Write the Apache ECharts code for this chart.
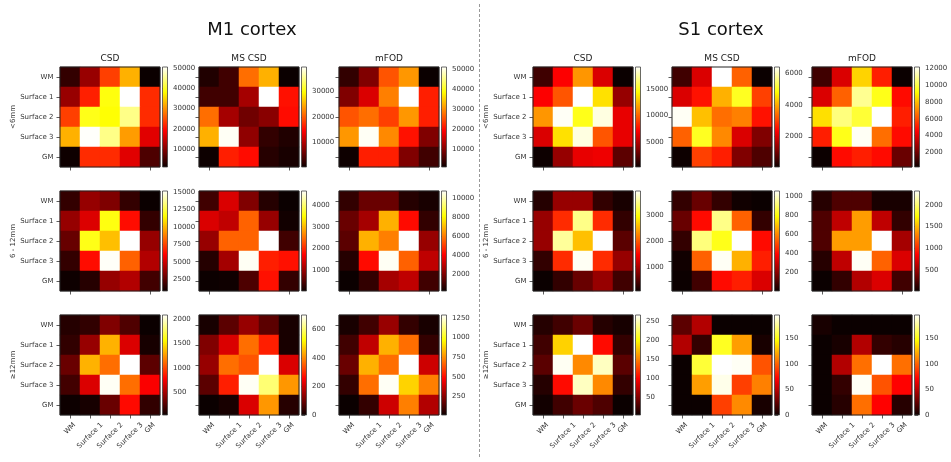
<!DOCTYPE html>
<html>
<head>
<meta charset="utf-8">
<script src="https://cdn.jsdelivr.net/npm/echarts@6/dist/echarts.min.js"></script>
<style>
  html, body { margin: 0; padding: 0; background: #fff; }
  #chart { width: 951px; height: 462px; }
</style>
</head>
<body>
<div id="chart"></div>
<script>
// Connection-strength matrices between tissue layers, per region, distance bin and method.
const TISSUE_LABELS = ['WM', 'Surface 1', 'Surface 2', 'Surface 3', 'GM'];
const METHODS = ['CSD', 'MS CSD', 'mFOD'];
const DISTANCES = ['<6mm', '6 - 12mm', '≥12mm'];
const REGIONS = ['M1 cortex', 'S1 cortex'];

// ---- M1 cortex ----
const M1_CSD_LT6 = [
  [4100, 11500, 23800, 32200, 1100],
  [11500, 21400, 38600, 50500, 22300],
  [23800, 39100, 38100, 44600, 22300],
  [32200, 50300, 44600, 30700, 16900],
  [1300, 22300, 22300, 16900, 6000]
];
const M1_MSCSD_LT6 = [
  [1600, 3500, 21100, 25000, 400],
  [3500, 3500, 9400, 39500, 15600],
  [21100, 9400, 6300, 7800, 15300],
  [25000, 39100, 8200, 2700, 1600],
  [500, 16400, 15300, 2000, 1200]
];
const M1_MFOD_LT6 = [
  [4000, 9750, 25500, 30500, 1000],
  [9750, 16500, 28750, 51000, 21500],
  [25500, 27500, 24000, 30500, 21500],
  [30500, 50500, 29500, 20500, 9750],
  [1200, 21500, 21500, 9750, 5000]
];
const M1_CSD_6_12 = [
  [1700, 3800, 3300, 1700, 830],
  [3800, 5300, 11700, 6300, 1700],
  [2800, 11800, 10100, 15100, 3800],
  [1700, 6300, 15000, 8100, 4400],
  [900, 1400, 3800, 4400, 2000]
];
const M1_MSCSD_6_12 = [
  [400, 1460, 840, 210, 30],
  [1460, 1280, 2390, 1000, 80],
  [1000, 2390, 2390, 4650, 400],
  [210, 1090, 4600, 1920, 1830],
  [40, 60, 490, 1830, 310]
];
const M1_MFOD_6_12 = [
  [830, 1680, 1680, 620, 410],
  [1680, 2630, 6860, 4220, 830],
  [1470, 6860, 6070, 10770, 2420],
  [620, 4220, 10660, 5590, 3050],
  [200, 830, 2630, 3050, 1050]
];
const M1_CSD_GE12 = [
  [110, 150, 390, 240, 30],
  [150, 460, 1330, 670, 70],
  [320, 1330, 1120, 2090, 280],
  [200, 670, 2070, 1120, 770],
  [35, 70, 320, 810, 150]
];
const M1_MSCSD_GE12 = [
  [14, 84, 147, 84, 14],
  [122, 217, 371, 287, 14],
  [147, 371, 343, 700, 217],
  [84, 287, 693, 602, 413],
  [0, 14, 217, 413, 28]
];
const M1_MFOD_GE12 = [
  [36, 112, 279, 87, 36],
  [112, 356, 816, 688, 87],
  [189, 816, 688, 1290, 381],
  [87, 688, 1277, 880, 720],
  [10, 87, 381, 720, 330]
];

// ---- S1 cortex ----
const S1_CSD_LT6 = [
  [1900, 7200, 11400, 6200, 430],
  [7200, 9600, 19070, 13500, 4300],
  [11400, 18900, 14800, 18500, 6600],
  [6200, 13500, 18500, 9600, 6600],
  [500, 4300, 6600, 6800, 2700]
];
const S1_MSCSD_LT6 = [
  [580, 2030, 6380, 3290, 80],
  [2030, 2540, 4050, 4990, 2980],
  [6320, 4180, 3420, 3580, 2540],
  [3290, 4990, 3670, 2030, 1180],
  [100, 2980, 2660, 1180, 710]
];
const S1_MFOD_LT6 = [
  [1220, 3960, 8380, 5150, 260],
  [3960, 6350, 10890, 9450, 4800],
  [8620, 10650, 9810, 12200, 5150],
  [5150, 9450, 12080, 6590, 4800],
  [280, 4800, 5150, 4800, 1930]
];
const S1_CSD_6_12 = [
  [210, 870, 870, 290, 140],
  [870, 1720, 3470, 1720, 290],
  [870, 3540, 2580, 3930, 520],
  [290, 1720, 3890, 1720, 870],
  [60, 290, 600, 870, 370]
];
const S1_MSCSD_6_12 = [
  [68, 151, 68, 15, 5],
  [151, 402, 925, 538, 68],
  [68, 914, 810, 1050, 402],
  [15, 538, 1040, 663, 433],
  [6, 89, 402, 433, 329]
];
const S1_MFOD_6_12 = [
  [107, 246, 246, 61, 61],
  [246, 637, 1398, 637, 153],
  [246, 1398, 1398, 2320, 545],
  [107, 637, 2297, 1191, 730],
  [15, 153, 591, 730, 199]
];
const S1_CSD_GE12 = [
  [14, 25, 41, 14, 9],
  [25, 181, 265, 103, 20],
  [35, 262, 153, 249, 35],
  [14, 103, 249, 153, 20],
  [7, 25, 41, 30, 4]
];
const S1_MSCSD_GE12 = [
  [24, 49, 0, 0, 0],
  [49, 12, 153, 118, 4],
  [0, 157, 196, 194, 96],
  [0, 118, 192, 90, 109],
  [0, 0, 90, 112, 4]
];
const S1_MFOD_GE12 = [
  [4, 0, 0, 0, 0],
  [0, 4, 49, 12, 8],
  [0, 49, 104, 196, 104],
  [0, 12, 194, 96, 72],
  [0, 8, 104, 72, 8]
];

// Colour-bar tick labels, [region][distance][method]
const M1_TICKS_LT6 = [[10000, 20000, 30000, 40000, 50000], [10000, 20000, 30000], [10000, 20000, 30000, 40000, 50000]];
const M1_TICKS_6_12 = [[2500, 5000, 7500, 10000, 12500, 15000], [1000, 2000, 3000, 4000], [2000, 4000, 6000, 8000, 10000]];
const M1_TICKS_GE12 = [[500, 1000, 1500, 2000], [0, 200, 400, 600], [250, 500, 750, 1000, 1250]];
const S1_TICKS_LT6 = [[5000, 10000, 15000], [2000, 4000, 6000], [2000, 4000, 6000, 8000, 10000, 12000]];
const S1_TICKS_6_12 = [[1000, 2000, 3000], [200, 400, 600, 800, 1000], [500, 1000, 1500, 2000]];
const S1_TICKS_GE12 = [[50, 100, 150, 200, 250], [0, 50, 100, 150], [0, 50, 100, 150]];

const MATRICES = [
  [[M1_CSD_LT6, M1_MSCSD_LT6, M1_MFOD_LT6], [M1_CSD_6_12, M1_MSCSD_6_12, M1_MFOD_6_12], [M1_CSD_GE12, M1_MSCSD_GE12, M1_MFOD_GE12]],
  [[S1_CSD_LT6, S1_MSCSD_LT6, S1_MFOD_LT6], [S1_CSD_6_12, S1_MSCSD_6_12, S1_MFOD_6_12], [S1_CSD_GE12, S1_MSCSD_GE12, S1_MFOD_GE12]]
];
const TICKS = [
  [M1_TICKS_LT6, M1_TICKS_6_12, M1_TICKS_GE12],
  [S1_TICKS_LT6, S1_TICKS_6_12, S1_TICKS_GE12]
];

// ---- layout ----
const COL_LEFT = [[60, 199, 339], [533, 672, 812]];
const ROW_TOP = [67, 191, 315];
const BOX = 100;
const CBAR_OFFSET = 102.5;
const CBAR_WIDTH = 5;
const REGION_TITLE_X = [252, 721];
const FONT = 'DejaVu Sans';
const TEXT_COLOR = '#333';
const TICK_FONT = 7;

// matplotlib "hot" colour map (piecewise linear)
const HOT_STOPS = [
  { offset: 0, color: '#0b0000' },
  { offset: 0.365079, color: '#ff0000' },
  { offset: 0.746032, color: '#ffff00' },
  { offset: 1, color: '#ffffff' }
];
function hotColor(t) {
  const r = Math.min(1, 0.0416 + (1 - 0.0416) * t / 0.365079);
  const g = Math.max(0, Math.min(1, (t - 0.365079) / (0.746032 - 0.365079)));
  const b = Math.max(0, (t - 0.746032) / (1 - 0.746032));
  return 'rgb(' + [r, g, b].map(v => Math.round(v * 255)).join(',') + ')';
}
const HOT_PALETTE = Array.from({ length: 129 }, (_, i) => hotColor(i / 128));

// Rotated x labels centred on their tick (matplotlib-style rotation with ha='center').
const measureCtx = document.createElement('canvas').getContext('2d');
measureCtx.font = TICK_FONT + 'px "' + FONT + '"';
const X_RICH = { t: { fontSize: TICK_FONT, color: TEXT_COLOR, fontFamily: FONT } };
TISSUE_LABELS.forEach((lab, i) => {
  const len = measureCtx.measureText(lab).width;
  const g = (len + 8) / 2;
  X_RICH['g' + i] = { width: g, height: g, lineHeight: g, fontSize: TICK_FONT };
});

const tickStyle = { show: true, length: 3.5, lineStyle: { color: TEXT_COLOR, width: 0.8 } };

const grid = [], xAxis = [], yAxis = [], series = [], visualMap = [], title = [];

REGIONS.forEach((region, p) => {
  title.push({
    text: region, left: REGION_TITLE_X[p], top: 21, textAlign: 'center', padding: 0,
    textStyle: { fontSize: 18, fontWeight: 'normal', fontFamily: FONT, color: '#111' }
  });
  DISTANCES.forEach((dist, r) => {
    METHODS.forEach((method, c) => {
      const matrix = MATRICES[p][r][c];
      const ticks = TICKS[p][r][c];
      const flat = matrix.flat();
      const vmin = Math.min(...flat);
      const vmax = Math.max(...flat);
      const left = COL_LEFT[p][c];
      const top = ROW_TOP[r];

      if (r === 0) {
        title.push({
          text: method, left: left + BOX / 2, top: 54, textAlign: 'center', padding: 0,
          textStyle: { fontSize: 9, fontWeight: 'normal', fontFamily: FONT, color: '#222' }
        });
      }

      // heatmap grid
      const gi = grid.length;
      grid.push({ left: left, top: top, width: BOX, height: BOX, containLabel: false });
      xAxis.push({
        gridIndex: gi, type: 'category', data: TISSUE_LABELS,
        axisLine: { show: false }, splitLine: { show: false },
        axisTick: Object.assign({ alignWithLabel: true }, tickStyle),
        axisLabel: r === 2 ? {
          interval: 0, rotate: 45, align: 'center', verticalAlign: 'top', margin: 6,
          formatter: (v, i) => '{t|' + v + '}{g' + i + '| }', rich: X_RICH
        } : { show: false }
      });
      yAxis.push({
        gridIndex: gi, type: 'category', inverse: true, data: TISSUE_LABELS,
        axisLine: { show: false }, splitLine: { show: false },
        axisTick: Object.assign({ alignWithLabel: true }, tickStyle),
        axisLabel: c === 0 ? { interval: 0, fontSize: TICK_FONT, color: TEXT_COLOR, fontFamily: FONT, margin: 6.5 } : { show: false },
        name: c === 0 ? dist : '', nameLocation: 'middle', nameRotate: 90, nameGap: 43,
        nameTextStyle: { fontSize: TICK_FONT, color: TEXT_COLOR, fontFamily: FONT }
      });
      const data = [];
      matrix.forEach((row, yi) => row.forEach((v, xi) => data.push([xi, yi, v])));
      series.push({
        type: 'heatmap', xAxisIndex: gi, yAxisIndex: gi, data: data,
        itemStyle: { borderWidth: 0 }, emphasis: { disabled: true }, silent: true
      });
      visualMap.push({
        type: 'continuous', show: false, seriesIndex: series.length - 1, dimension: 2,
        min: vmin, max: vmax, inRange: { color: HOT_PALETTE }
      });
      // axes frame
      series.push({
        type: 'custom', xAxisIndex: gi, yAxisIndex: gi, data: [[0, 0]], silent: true, z: 5,
        renderItem: (params) => {
          const cs = params.coordSys;
          return { type: 'rect', shape: { x: cs.x, y: cs.y, width: cs.width, height: cs.height },
            style: { fill: 'none', stroke: '#222', lineWidth: 1 } };
        }
      });

      // colour bar grid
      const ci = grid.length;
      grid.push({ left: left + CBAR_OFFSET, top: top, width: CBAR_WIDTH, height: BOX });
      xAxis.push({ gridIndex: ci, type: 'value', min: 0, max: 1, show: false });
      yAxis.push({
        gridIndex: ci, type: 'value', min: vmin, max: vmax, position: 'right',
        axisLine: { show: false }, splitLine: { show: false },
        axisTick: Object.assign({ customValues: ticks }, tickStyle),
        axisLabel: {
          customValues: ticks, fontSize: TICK_FONT, color: TEXT_COLOR, fontFamily: FONT, margin: 5.5,
          formatter: v => String(v)
        }
      });
      series.push({
        type: 'custom', xAxisIndex: ci, yAxisIndex: ci, data: [[0, vmin, 1, vmax]], silent: true,
        renderItem: (params, api) => {
          const p0 = api.coord([api.value(0), api.value(1)]);
          const p1 = api.coord([api.value(2), api.value(3)]);
          return {
            type: 'rect',
            shape: { x: p0[0], y: p1[1], width: p1[0] - p0[0], height: p0[1] - p1[1] },
            style: {
              fill: new echarts.graphic.LinearGradient(0, 1, 0, 0, HOT_STOPS),
              stroke: '#444', lineWidth: 0.8
            }
          };
        }
      });
    });
  });
});

const chart = echarts.init(document.getElementById('chart'), null, { renderer: 'canvas' });
chart.setOption({
  animation: false,
  backgroundColor: '#fff',
  textStyle: { fontFamily: FONT },
  title: title,
  grid: grid,
  xAxis: xAxis,
  yAxis: yAxis,
  visualMap: visualMap,
  series: series,
  graphic: [{
    type: 'line', silent: true,
    shape: { x1: 479.5, y1: 4, x2: 479.5, y2: 458 },
    style: { stroke: '#999', lineWidth: 1, lineDash: [3, 2] }
  }]
});
</script>
</body>
</html>
